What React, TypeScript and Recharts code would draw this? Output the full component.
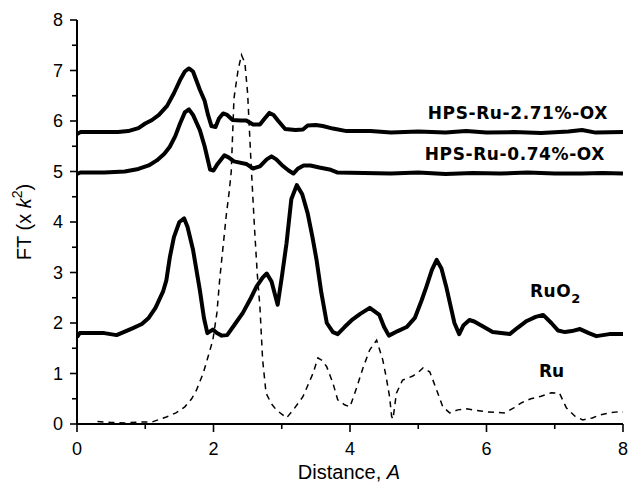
import React from "react";
import { LineChart, Line, XAxis, YAxis, Customized } from "recharts";

// Radial distribution (FT magnitude) vs distance, digitised as [distance, FT] pairs.
const hps271: [number, number][] = [
  [0, 5.74], [0.05, 5.78], [0.3, 5.78], [0.6, 5.78], [0.75, 5.8], [0.9, 5.86], [1.0, 5.95],
  [1.1, 6.02], [1.2, 6.12], [1.32, 6.3], [1.42, 6.55], [1.51, 6.81], [1.58, 6.98], [1.64, 7.04],
  [1.7, 6.98], [1.8, 6.62], [1.87, 6.4], [1.92, 6.12], [1.97, 5.9], [2.03, 5.88], [2.08, 6.05],
  [2.14, 6.15], [2.2, 6.12], [2.28, 6.02], [2.4, 6.01], [2.48, 6.01], [2.58, 5.93], [2.68, 5.93],
  [2.75, 6.05], [2.82, 6.16], [2.88, 6.12], [2.95, 6.0], [3.05, 5.84], [3.2, 5.82], [3.31, 5.83],
  [3.38, 5.91], [3.5, 5.92], [3.6, 5.9], [3.75, 5.85], [3.95, 5.8], [4.3, 5.8], [4.6, 5.77],
  [5.0, 5.79], [5.4, 5.77], [5.7, 5.8], [6.0, 5.77], [6.4, 5.78], [6.8, 5.76], [7.2, 5.79],
  [7.4, 5.82], [7.6, 5.77], [8.0, 5.78],
];

const hps074: [number, number][] = [
  [0, 4.95], [0.05, 4.98], [0.4, 4.98], [0.7, 5.0], [0.9, 5.05], [1.05, 5.12], [1.17, 5.22],
  [1.28, 5.35], [1.36, 5.49], [1.44, 5.7], [1.51, 5.95], [1.58, 6.17], [1.64, 6.23], [1.7, 6.12],
  [1.8, 5.82], [1.87, 5.5], [1.95, 5.04], [2.0, 5.02], [2.06, 5.15], [2.16, 5.32], [2.22, 5.28],
  [2.3, 5.2], [2.48, 5.15], [2.58, 5.06], [2.68, 5.1], [2.78, 5.24], [2.85, 5.3], [2.92, 5.24],
  [3.0, 5.13], [3.1, 5.02], [3.17, 4.96], [3.24, 5.06], [3.32, 5.12], [3.42, 5.12], [3.55, 5.08],
  [3.7, 5.04], [3.82, 4.98], [4.2, 4.97], [4.6, 4.96], [5.0, 4.98], [5.4, 4.95], [5.8, 4.97],
  [6.2, 4.96], [6.6, 4.98], [7.0, 4.96], [7.4, 4.96], [7.7, 4.97], [8.0, 4.96],
];

const ruo2: [number, number][] = [
  [0, 1.72], [0.04, 1.8], [0.4, 1.8], [0.58, 1.76], [0.7, 1.83], [0.82, 1.9], [0.95, 1.98],
  [1.05, 2.1], [1.15, 2.3], [1.26, 2.62], [1.31, 2.85], [1.36, 3.3], [1.42, 3.7], [1.5, 4.0],
  [1.57, 4.07], [1.62, 3.9], [1.7, 3.45], [1.8, 2.65], [1.86, 2.1], [1.91, 1.8], [1.99, 1.87],
  [2.05, 1.8], [2.12, 1.75], [2.2, 1.76], [2.3, 1.95], [2.43, 2.2], [2.55, 2.5], [2.63, 2.72],
  [2.72, 2.9], [2.78, 2.98], [2.85, 2.82], [2.94, 2.36], [3.0, 2.9], [3.07, 3.58], [3.14, 4.45],
  [3.22, 4.73], [3.3, 4.55], [3.38, 4.17], [3.45, 3.7], [3.51, 3.25], [3.58, 2.6], [3.66, 2.0],
  [3.75, 1.82], [3.82, 1.78], [3.92, 1.92], [4.02, 2.05], [4.15, 2.18], [4.29, 2.3], [4.43, 2.16],
  [4.5, 1.92], [4.57, 1.75], [4.7, 1.84], [4.83, 1.92], [4.95, 2.1], [5.05, 2.45], [5.12, 2.72],
  [5.2, 3.05], [5.27, 3.25], [5.34, 3.08], [5.41, 2.72], [5.48, 2.3], [5.53, 2.0], [5.6, 1.78],
  [5.66, 1.95], [5.75, 2.06], [5.82, 2.03], [5.95, 1.93], [6.09, 1.82], [6.34, 1.78], [6.45, 1.9],
  [6.59, 2.04], [6.72, 2.12], [6.83, 2.16], [6.95, 2.0], [7.05, 1.85], [7.15, 1.82], [7.25, 1.84],
  [7.37, 1.88], [7.5, 1.8], [7.61, 1.74], [7.8, 1.78], [8.0, 1.78],
];

const ru: [number, number][] = [
  [0.3, 0.05], [0.5, 0.03], [0.7, 0.02], [0.9, 0.04], [1.1, 0.04], [1.31, 0.14], [1.45, 0.22],
  [1.58, 0.34], [1.68, 0.5], [1.75, 0.67], [1.85, 1.01], [1.92, 1.33], [1.99, 1.66], [2.05, 2.2],
  [2.09, 2.85], [2.14, 3.51], [2.19, 4.17], [2.23, 4.6], [2.26, 5.0], [2.3, 6.45], [2.36, 7.01],
  [2.41, 7.31], [2.46, 7.15], [2.5, 6.55], [2.55, 5.17], [2.6, 3.9], [2.64, 3.0], [2.68, 2.32],
  [2.72, 1.27], [2.77, 0.61], [2.85, 0.4], [2.92, 0.28], [3.07, 0.12], [3.18, 0.3], [3.31, 0.54],
  [3.46, 1.01], [3.53, 1.31], [3.6, 1.25], [3.66, 1.13], [3.75, 0.81], [3.82, 0.48], [3.92, 0.38],
  [4.0, 0.34], [4.1, 0.73], [4.19, 1.11], [4.29, 1.47], [4.39, 1.66], [4.48, 1.27], [4.53, 0.93],
  [4.58, 0.54], [4.61, 0.15], [4.63, 0.1], [4.68, 0.61], [4.77, 0.87], [4.85, 0.91], [4.92, 0.95],
  [4.99, 1.01], [5.07, 1.11], [5.17, 1.03], [5.27, 0.67], [5.36, 0.34], [5.46, 0.22], [5.58, 0.28],
  [5.71, 0.3], [5.85, 0.27], [6.0, 0.24], [6.15, 0.23], [6.27, 0.22], [6.4, 0.32], [6.51, 0.42],
  [6.65, 0.5], [6.8, 0.55], [6.95, 0.62], [7.07, 0.61], [7.17, 0.32], [7.3, 0.15], [7.41, 0.08],
  [7.55, 0.12], [7.66, 0.18], [7.8, 0.22], [7.92, 0.24], [8.0, 0.24],
];

const xTicks = [0, 1, 2, 3, 4, 5, 6, 7, 8];
const yTicks = [0, 0.5, 1, 1.5, 2, 2.5, 3, 3.5, 4, 4.5, 5, 5.5, 6, 6.5, 7, 7.5, 8];

const toPoints = (arr: [number, number][]) => arr.map(([x, y]) => ({ x, y }));

const AXIS_FONT = "'Liberation Sans', Arial, sans-serif";
const LABEL_FONT = "'DejaVu Sans', Verdana, sans-serif";

function YTick(props: any) {
  const { x, y, payload } = props;
  const major = Number.isInteger(payload.value);
  return (
    <g>
      <line x1={x} x2={x - (major ? 7 : 5)} y1={y} y2={y} stroke="#000" strokeWidth={1.6} />
      {major && (
        <text x={x - 14} y={y} dy="0.36em" textAnchor="end" fontSize={18} fontFamily={AXIS_FONT} fill="#000">
          {payload.value}
        </text>
      )}
    </g>
  );
}

function XTick(props: any) {
  const { x, y, payload } = props;
  const major = payload.value % 2 === 0;
  return (
    <g>
      <line x1={x} x2={x} y1={y} y2={y + (major ? 8 : 5)} stroke="#000" strokeWidth={1.6} />
      {major && (
        <text x={x} y={y + 31} textAnchor="middle" fontSize={18} fontFamily={AXIS_FONT} fill="#000">
          {payload.value}
        </text>
      )}
    </g>
  );
}

function Annotations() {
  const bold = { fontFamily: LABEL_FONT, fontWeight: 700, fontSize: 17, fill: "#000" };
  return (
    <g>
      <text x={608} y={119} textAnchor="end" letterSpacing={0.6} {...bold}>HPS-Ru-2.71%-OX</text>
      <text x={605} y={160} textAnchor="end" letterSpacing={0.6} {...bold}>HPS-Ru-0.74%-OX</text>
      <text x={530} y={297} letterSpacing={0.5} {...bold}>
        RuO<tspan fontSize={13} dy={6}>2</tspan>
      </text>
      <text x={539} y={377} {...bold}>Ru</text>

      <text
        x={31}
        y={222}
        transform="rotate(-90 31 222)"
        textAnchor="middle"
        fontSize={20}
        fontFamily={AXIS_FONT}
        fill="#000"
      >
        FT (x <tspan fontStyle="italic">k</tspan>
        <tspan fontSize={14} dy={-9}>2</tspan>
        <tspan dy={9}>)</tspan>
      </text>
      <text x={349} y={479} textAnchor="middle" fontSize={20} fontFamily={AXIS_FONT} fill="#000">
        Distance, <tspan fontStyle="italic">A</tspan>
      </text>
    </g>
  );
}

export default function App() {
  return (
    <div style={{ position: "absolute", left: 0, top: 0, width: 632, height: 482, background: "#fff" }}>
      <LineChart width={632} height={482} margin={{ top: 20, right: 9, bottom: 28, left: 0 }}>
        <XAxis
          type="number"
          dataKey="x"
          domain={[0, 8]}
          ticks={xTicks}
          interval={0}
          tickSize={0}
          tickMargin={0}
          tickLine={false}
          tick={<XTick />}
          height={30}
          axisLine={{ stroke: "#000", strokeWidth: 2 }}
          allowDataOverflow
        />
        <YAxis
          type="number"
          domain={[0, 8]}
          ticks={yTicks}
          interval={0}
          tickSize={0}
          tickMargin={0}
          tickLine={false}
          tick={<YTick />}
          width={77}
          axisLine={{ stroke: "#000", strokeWidth: 2 }}
          allowDataOverflow
        />
        <Line
          data={toPoints(ru)}
          dataKey="y"
          type="linear"
          stroke="#000"
          strokeWidth={1.5}
          strokeDasharray="6 5"
          dot={false}
          activeDot={false}
          isAnimationActive={false}
        />
        <Line
          data={toPoints(ruo2)}
          dataKey="y"
          type="linear"
          stroke="#000"
          strokeWidth={4}
          strokeLinejoin="round"
          dot={false}
          activeDot={false}
          isAnimationActive={false}
        />
        <Line
          data={toPoints(hps074)}
          dataKey="y"
          type="linear"
          stroke="#000"
          strokeWidth={4}
          strokeLinejoin="round"
          dot={false}
          activeDot={false}
          isAnimationActive={false}
        />
        <Line
          data={toPoints(hps271)}
          dataKey="y"
          type="linear"
          stroke="#000"
          strokeWidth={4}
          strokeLinejoin="round"
          dot={false}
          activeDot={false}
          isAnimationActive={false}
        />
        <Customized component={<Annotations />} />
      </LineChart>
    </div>
  );
}
